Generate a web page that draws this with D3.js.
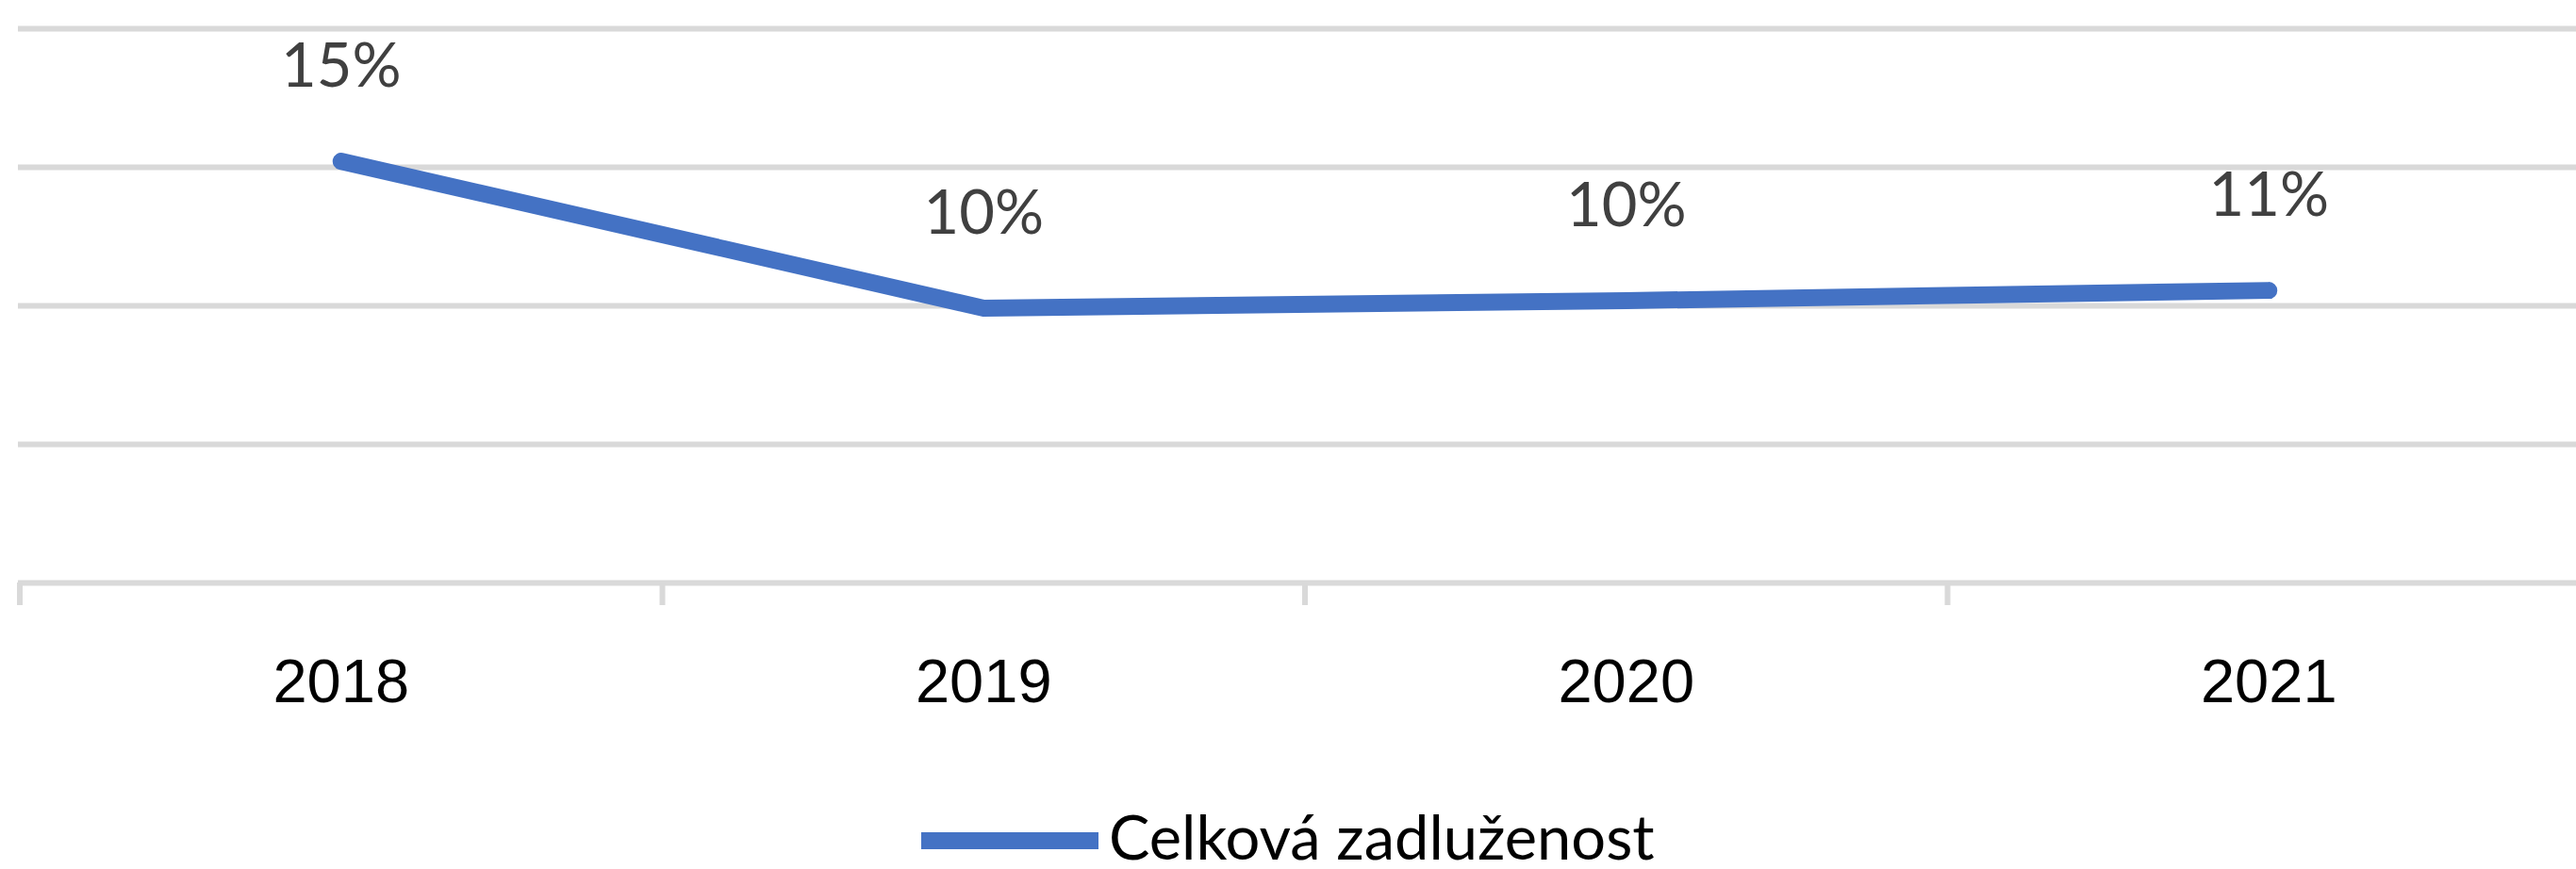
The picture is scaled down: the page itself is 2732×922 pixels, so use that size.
<!DOCTYPE html>
<html>
<head>
<meta charset="utf-8">
<script src="https://cdn.jsdelivr.net/npm/d3@7"></script>
<style>
  body { margin: 0; background: #fff; }
  svg { display: block; font-family: Lato, "Open Sans", sans-serif; }
</style>
</head>
<body>
<svg id="chart" width="2732" height="922"></svg>
<script>
// data
var years = ['2018', '2019', '2020', '2021']
var zadluzenost = [0.152, 0.099, 0.1017, 0.1054]
var labels = ['15%', '10%', '10%', '11%']
var yTicks = [0, 0.05, 0.10, 0.15, 0.20]
var seriesName = 'Celková zadluženost'

var svg = d3.select('#chart'),
    W = 2732, H = 922,
    plotLeft = 21, bandW = 681.5,
    plotTop = 30, plotBottom = 618,
    blue = '#4472C4',
    grid = '#d9d9d9'

var x = d3.scaleBand().domain(years).range([plotLeft, plotLeft + bandW * years.length])
var y = d3.scaleLinear().domain([0, 0.2]).range([plotBottom, plotTop])

var data = years.map((d, i) => ({year: d, v: zadluzenost[i], label: labels[i]}))

// horizontal gridlines
svg.append('g')
    .attr('transform', 'translate(' + W + ',0)')
    .call(d3.axisLeft(y).tickValues(yTicks).tickSize(W - plotLeft + 2))
    .call(g => {
        g.select('.domain').remove()
        g.selectAll('text').remove()
        g.selectAll('line').attr('stroke', grid).attr('stroke-width', 6)
    })

// category axis, labels centred in bands
svg.append('g')
    .attr('transform', 'translate(0,' + plotBottom + ')')
    .call(d3.axisBottom(x).tickSize(0).tickPadding(0))
    .call(g => {
        g.select('.domain').remove()
        g.selectAll('text')
            .attr('dy', null)
            .attr('y', 127)
            .attr('fill', '#000')
            .attr('font-size', 65)
    })

// ticks on band edges
svg.append('g').selectAll('line')
    .data(years)
    .enter().append('line')
    .attr('x1', d => x(d)).attr('x2', d => x(d))
    .attr('y1', plotBottom).attr('y2', plotBottom + 24)
    .attr('stroke', grid).attr('stroke-width', 6)

var line = d3.line()
    .x(d => x(d.year) + x.bandwidth() / 2)
    .y(d => y(d.v))

svg.append('path')
    .datum(data)
    .attr('d', line)
    .attr('fill', 'none')
    .attr('stroke', blue)
    .attr('stroke-width', 18)
    .attr('stroke-linecap', 'round')
    .attr('stroke-linejoin', 'round')

svg.append('g').selectAll('text')
    .data(data)
    .enter().append('text')
    .attr('x', d => x(d.year) + x.bandwidth() / 2)
    .attr('y', d => y(d.v) - 79)
    .attr('text-anchor', 'middle')
    .attr('fill', '#404040')
    .attr('font-size', 65)
    .text(d => d.label)

// legend
var legend = svg.append('g').attr('transform', 'translate(977,892)')
legend.append('line')
    .attr('x1', 0).attr('x2', 188)
    .attr('stroke', blue).attr('stroke-width', 18)
legend.append('text')
    .attr('x', 199)
    .attr('y', 20)
    .attr('fill', '#000')
    .attr('font-size', 65)
    .text(seriesName)
</script>
</body>
</html>
